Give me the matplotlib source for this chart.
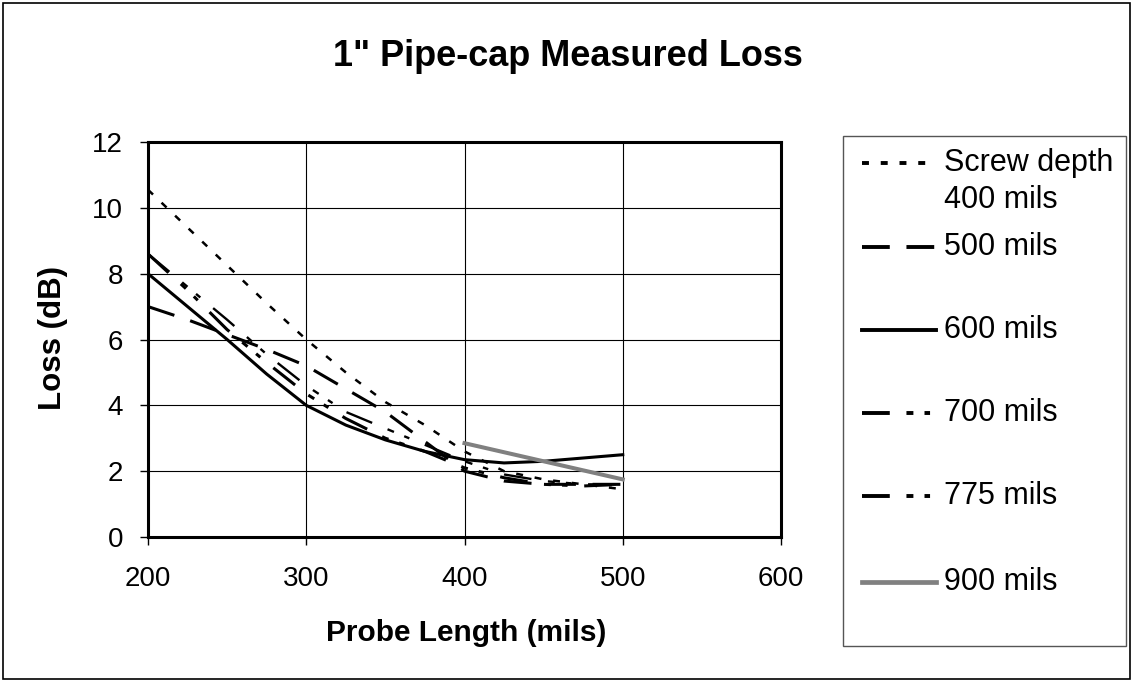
import matplotlib
matplotlib.use("Agg")
import matplotlib.pyplot as plt
from matplotlib.lines import Line2D
from matplotlib.patches import Rectangle

plt.rcParams['font.family'] = ['Liberation Sans', 'DejaVu Sans']
plt.rcParams['lines.scale_dashes'] = False

# probe length (mils)
x_full = [200, 225, 250, 275, 300, 325, 350, 375, 400, 425, 450, 475, 500]
x_900 = [400, 500]

# loss (dB) per screw depth
loss_400 = [10.55, 9.4, 8.25, 7.1, 6.0, 5.0, 4.1, 3.4, 2.6, 2.0, 1.75, 1.6, 1.45]
loss_500 = [7.0, 6.6, 6.15, 5.7, 5.2, 4.5, 3.8, 2.9, 2.0, 1.7, 1.6, 1.6, 1.6]
loss_600 = [8.0, 7.0, 6.0, 4.95, 4.0, 3.4, 2.95, 2.6, 2.35, 2.25, 2.3, 2.4, 2.5]
loss_700 = [8.6, 7.6, 6.6, 5.55, 4.6, 3.8, 3.3, 2.8, 2.3, 1.9, 1.7, 1.6, 1.6]
loss_775 = [8.6, 7.5, 6.3, 5.3, 4.35, 3.6, 3.0, 2.6, 2.1, 1.8, 1.6, 1.55, 1.6]
loss_900 = [2.85, 1.75]

labels = ['Screw depth\n400 mils', '500 mils', '600 mils', '700 mils', '775 mils', '900 mils']

fig = plt.figure(figsize=(11.33, 6.82), dpi=100)
fig.patches.append(Rectangle((0.003, 0.004), 0.994, 0.992, transform=fig.transFigure,
                             fill=False, edgecolor='black', linewidth=1.2))

ax = fig.add_axes([148 / 1133, 145 / 682, 633 / 1133, 395 / 682])

dot = (0, (5, 8.5))
longdash = (0, (20, 12))
lddd = (0, (20, 12, 5, 8, 4, 12))

ax.plot(x_full, loss_400, color='black', lw=1.8, ls=dot, label=labels[0])
ax.plot(x_full, loss_500, color='black', lw=2.2, ls=longdash, label=labels[1])
ax.plot(x_full, loss_600, color='black', lw=2.2, ls='-', label=labels[2])
ax.plot(x_full, loss_700, color='black', lw=1.7, ls=lddd, label=labels[3])
ax.plot(x_full, loss_775, color='black', lw=2.2, ls=lddd, label=labels[4])
ax.plot(x_900, loss_900, color='#808080', lw=2.9, ls='-', label=labels[5])

ax.set_xlim(200, 600)
ax.set_ylim(0, 12)
ax.set_xticks([200, 300, 400, 500, 600])
ax.set_yticks(range(0, 13, 2))
ax.grid(True, color='black', lw=0.8)
ax.set_axisbelow(True)
for s in ax.spines.values():
    s.set_linewidth(2.2)
    s.set_color('black')
ax.tick_params(direction='out', length=6, width=1, labelsize=20)
ax.tick_params(axis='x', pad=15)
ax.tick_params(axis='y', pad=12)

ax.set_xlabel('Probe Length (mils)', fontsize=21.5, fontweight='bold')
ax.xaxis.set_label_coords((466 - 148) / 633, -(633 - 537) / 395)
ax.xaxis.label.set_va('center')
ax.set_ylabel('Loss (dB)', fontsize=22.5, fontweight='bold')
ax.yaxis.set_label_coords(-(148 - 53) / 633, (537 - 338) / 395)
ax.yaxis.label.set_va('center')
fig.text(568 / 1133, 1 - 56 / 682, '1" Pipe-cap Measured Loss', fontsize=26,
         fontweight='bold', ha='center', va='center')

# legend box
fig.patches.append(Rectangle((843 / 1133, 1 - 646 / 682), 283 / 1133, 510 / 682,
                             transform=fig.transFigure, fill=False, edgecolor='#555555', linewidth=1.0))
styles = [
    dict(color='black', lw=2.8, ls=dot),
    dict(color='black', lw=2.8, ls=longdash),
    dict(color='black', lw=2.8, ls='-'),
    dict(color='black', lw=2.8, ls=lddd),
    dict(color='black', lw=2.8, ls=lddd),
    dict(color='#808080', lw=3.4, ls='-'),
]
ys = [163, 247, 330, 413, 496, 582]
for st, lab, y in zip(styles, labels, ys):
    yf = 1 - y / 682
    fig.add_artist(Line2D([862 / 1133, 936 / 1133], [yf, yf], transform=fig.transFigure, **st))
    if '\n' in lab:
        first, second = lab.split('\n')
        fig.text(944 / 1133, yf, first, fontsize=22, va='center', ha='left')
        fig.text(944 / 1133, 1 - (y + 37) / 682, second, fontsize=22, va='center', ha='left')
    else:
        fig.text(944 / 1133, yf, lab, fontsize=22, va='center', ha='left')

fig.savefig('out.png', dpi=100)
